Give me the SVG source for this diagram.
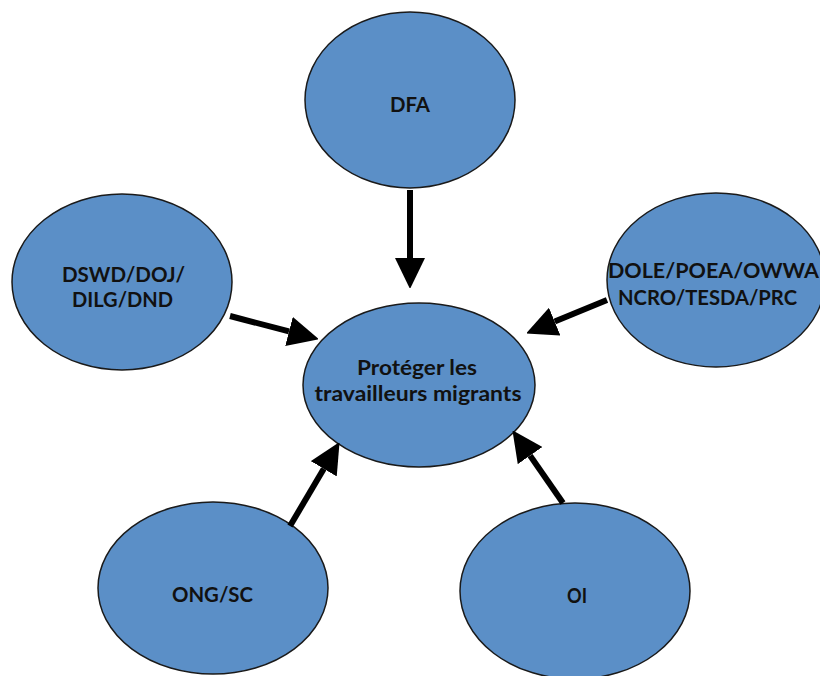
<svg xmlns="http://www.w3.org/2000/svg" width="820" height="676" viewBox="0 0 820 676">
<style>
.n{fill:#5b8fc7;stroke:#1a1a1a;stroke-width:1.5}
.t{font-family:Lato,"Open Sans",sans-serif;font-weight:bold;font-size:20px;fill:#111;text-anchor:middle}
.c{stroke:#000;stroke-width:6;fill:none;marker-end:url(#ah)}
</style>
<defs>
<marker id="ah" viewBox="0 0 30 30" refX="0" refY="15" markerWidth="30" markerHeight="30" markerUnits="userSpaceOnUse" orient="auto">
<path d="M0,0 L31,15 L0,30 z" fill="#000"/>
</marker>
</defs>
<rect width="820" height="676" fill="#fff"/>
<g id="dfa"><ellipse class="n" cx="410" cy="100" rx="105" ry="88"/><text class="t" x="410" y="112" textLength="40" lengthAdjust="spacingAndGlyphs">DFA</text></g>
<g id="dswd"><ellipse class="n" cx="122" cy="282" rx="110" ry="88"/><text class="t" x="123.5" y="282" textLength="123" lengthAdjust="spacingAndGlyphs">DSWD/DOJ/</text><text class="t" x="122.5" y="307" textLength="101" lengthAdjust="spacingAndGlyphs">DILG/DND</text></g>
<g id="dole"><ellipse class="n" cx="716" cy="280" rx="109" ry="87"/><text class="t" x="713.5" y="278" textLength="211" lengthAdjust="spacingAndGlyphs">DOLE/POEA/OWWA</text><text class="t" x="707.5" y="305" textLength="179" lengthAdjust="spacingAndGlyphs">NCRO/TESDA/PRC</text></g>
<g id="center"><ellipse class="n" cx="419" cy="385" rx="116" ry="82"/><text class="t" x="417" y="375" textLength="120" lengthAdjust="spacingAndGlyphs">Protéger les</text><text class="t" x="418" y="401" textLength="207" lengthAdjust="spacingAndGlyphs">travailleurs migrants</text></g>
<g id="ong"><ellipse class="n" cx="213" cy="588" rx="115" ry="86"/><text class="t" x="212.5" y="602" textLength="81" lengthAdjust="spacingAndGlyphs">ONG/SC</text></g>
<g id="oi"><ellipse class="n" cx="575" cy="591" rx="115" ry="88"/><text class="t" x="577" y="603" textLength="20" lengthAdjust="spacingAndGlyphs">OI</text></g>
<g id="connectors">
<line class="c" x1="410" y1="190" x2="410" y2="258"/>
<line class="c" x1="230" y1="316" x2="289" y2="331.4"/>
<line class="c" x1="607" y1="300" x2="554.7" y2="321.6"/>
<line class="c" x1="290" y1="526" x2="323.8" y2="468.8"/>
<line class="c" x1="563" y1="503" x2="530.1" y2="455.6"/>
</g>
</svg>
